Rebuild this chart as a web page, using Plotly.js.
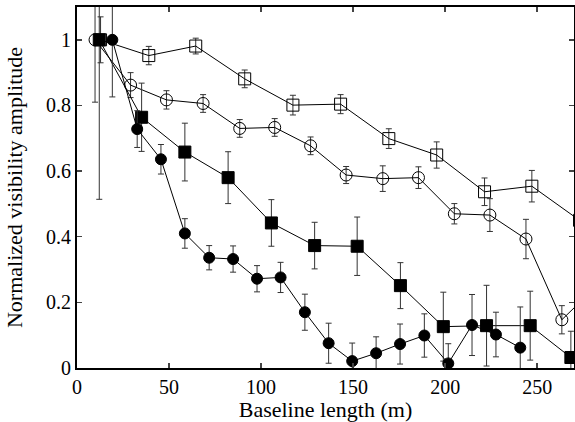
<!DOCTYPE html>
<html><head><meta charset="utf-8">
<script src="https://cdn.plot.ly/plotly-3.0.1.min.js"></script>
<style>body{margin:0}#c{width:575px;height:422px}</style>
</head><body><div id="c"></div>
<script>
const sqOpenX = [12.8, 39.0, 64.5, 91.1, 117.3, 143.2, 169.4, 195.4, 221.4, 247.1, 273.0];
const sqOpenY = [1.0, 0.952, 0.981, 0.881, 0.801, 0.804, 0.699, 0.649, 0.537, 0.554, 0.45];
const sqOpenE = [0.07, 0.028, 0.024, 0.027, 0.03, 0.029, 0.03, 0.04, 0.042, 0.048, 0.05];

const circOpenX = [9.8, 29.1, 48.6, 68.5, 88.4, 107.4, 126.9, 146.2, 166.1, 185.5, 205.0, 224.3, 243.9, 263.4, 283.0];
const circOpenY = [1.0, 0.862, 0.817, 0.806, 0.730, 0.733, 0.677, 0.588, 0.577, 0.580, 0.470, 0.466, 0.393, 0.147, 0.254];
const circOpenE = [0.19, 0.038, 0.028, 0.027, 0.027, 0.027, 0.027, 0.026, 0.039, 0.033, 0.031, 0.05, 0.06, 0.043, 0.05];

const sqFillX = [12.1, 35.1, 58.6, 82.1, 105.6, 129.1, 152.2, 175.7, 199.0, 222.5, 246.2, 268.3];
const sqFillY = [1.0, 0.764, 0.658, 0.580, 0.442, 0.373, 0.371, 0.251, 0.126, 0.129, 0.129, 0.032];
const sqFillE = [0.486, 0.104, 0.088, 0.079, 0.071, 0.071, 0.089, 0.070, 0.105, 0.123, 0.105, 0.08];

const circFillX = [19.2, 32.7, 45.6, 58.6, 71.8, 84.8, 97.8, 110.6, 123.8, 136.7, 149.5, 162.5, 175.5, 188.7, 201.7, 214.6, 227.6, 240.8];
const circFillY = [1.0, 0.728, 0.636, 0.410, 0.336, 0.332, 0.272, 0.276, 0.170, 0.0755, 0.021, 0.045, 0.073, 0.099, 0.014, 0.131, 0.102, 0.062];
const circFillE = [0.174, 0.056, 0.045, 0.045, 0.037, 0.04, 0.04, 0.046, 0.055, 0.061, 0.055, 0.05, 0.061, 0.066, 0.06, 0.093, 0.068, 0.124];

const xTickVals = [0, 50, 100, 150, 200, 250];
const yTickVals = [0, 0.2, 0.4, 0.6, 0.8, 1];

function tr(x, y, e, sym, size) {
  return {
    x: x, y: y, type: 'scatter', mode: 'lines+markers',
    line: {color: '#000', width: 1},
    marker: {symbol: sym, size: size, color: '#000', line: {color: '#000', width: 1}},
    error_y: {type: 'data', array: e, visible: true, color: '#333', thickness: 1, width: 3},
    showlegend: false
  };
}
const data = [
  tr(sqOpenX, sqOpenY, sqOpenE, 'square-open', 12),
  tr(circOpenX, circOpenY, circOpenE, 'circle-open', 12),
  tr(sqFillX, sqFillY, sqFillE, 'square', 12),
  tr(circFillX, circFillY, circFillE, 'circle', 11)
];
const fam = '"Liberation Serif", "Times New Roman", serif';
const titleFont = {family: fam, size: 22, color: '#000'};
const tickFont = {family: fam, size: 20, color: '#000'};
const layout = {
  width: 575, height: 422,
  margin: {l: 77, r: 1, t: 7, b: 54},
  paper_bgcolor: '#fff', plot_bgcolor: '#fff',
  font: tickFont,
  xaxis: {
    range: [0, 270], tickvals: xTickVals, ticks: 'inside', ticklen: 5, tickwidth: 1.5,
    showline: true, linewidth: 2, linecolor: '#000', mirror: 'ticks', showgrid: false, zeroline: false,
    title: {text: 'Baseline length (m)', font: titleFont, standoff: 3}, tickfont: tickFont
  },
  yaxis: {
    range: [0, 1.1], tickvals: yTickVals, ticks: 'inside', ticklen: 5, tickwidth: 1.5,
    showline: true, linewidth: 2, linecolor: '#000', mirror: 'ticks', showgrid: false, zeroline: false,
    title: {text: 'Normalized visibility amplitude', font: titleFont, standoff: 17}, tickfont: tickFont
  }
};
Plotly.newPlot('c', data, layout, {staticPlot: true});
</script></body></html>
